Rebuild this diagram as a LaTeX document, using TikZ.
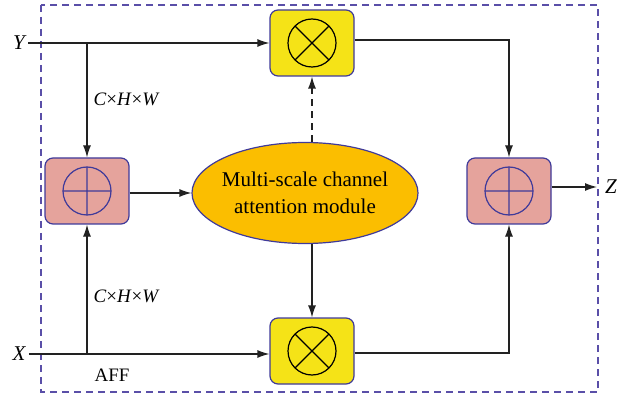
\documentclass[tikz,border=0pt]{standalone}
\usepackage{fontspec}
\setmainfont{Liberation Serif}
\usetikzlibrary{shapes.geometric,arrows.meta}
\definecolor{edgeblue}{HTML}{3F3A9A}
\definecolor{framecol}{HTML}{5A4FA8}
\definecolor{mulfill}{HTML}{F5E317}
\definecolor{addfill}{HTML}{E5A39C}
\definecolor{attfill}{HTML}{FBBE00}
\definecolor{wire}{HTML}{222222}
\tikzset{
  opbox/.style={draw=edgeblue, line width=1.2pt, rounded corners=8pt,
    minimum width=84pt, minimum height=66pt, inner sep=0pt},
  mulbox/.style={opbox, fill=mulfill},
  addbox/.style={opbox, fill=addfill},
  flow/.style={draw=wire, line width=1.2pt, -{Latex[length=12pt,width=8pt]}},
  lbl/.style={font=\fontsize{19}{21}\selectfont},
  io/.style={font=\fontsize{21}{23}\selectfont\itshape},
}
\newcommand{\timesmark}[1]{%
  \draw[black, line width=1.2pt] (#1) circle (24pt)
    (#1) ++(45:24pt) -- ++(225:48pt)
    (#1) ++(135:24pt) -- ++(-45:48pt);}
\newcommand{\plusmark}[1]{%
  \draw[edgeblue, line width=1.2pt] (#1) circle (24pt)
    (#1) ++(0:24pt) -- ++(180:48pt)
    (#1) ++(90:24pt) -- ++(-90:48pt);}
\newcommand{\dims}{\textit{C}×\textit{H}×\textit{W}}
\begin{document}
\begin{tikzpicture}[x=1pt,y=-1pt]
  \useasboundingbox (0,0) rectangle (629,398);
  % module frame
  \draw[framecol, line width=1.2pt, dash pattern=on 7pt off 5pt] (41,5) rectangle (598,392);

  % blocks
  \node[mulbox] (mt) at (312,43) {};
  \node[mulbox] (mb) at (312,351) {};
  \node[addbox] (al) at (87,191) {};
  \node[addbox] (ar) at (509,191) {};
  \node[ellipse, draw=edgeblue, line width=1.2pt, fill=attfill,
        minimum width=226pt, minimum height=101pt, inner sep=0pt]
        (msc) at (305,193) {};
  \node[align=center, font=\fontsize{21}{27}\selectfont, inner sep=0pt]
        (msctext) at (msc.center) {Multi-scale channel\\attention module};
  \timesmark{mt.center}
  \timesmark{mb.center}
  \plusmark{al.center}
  \plusmark{ar.center}

  % inputs and output
  \node[io] (y) at (19,43) {Y};
  \node[io] (x) at (19,354) {X};
  \node[io] (z) at (611,187) {Z};
  \coordinate (ybr) at (87,43);
  \coordinate (xbr) at (87,354);
  \coordinate (zend) at (597,187);

  \draw[draw=wire, line width=1.2pt] (y.east |- ybr) -- (ybr);
  \draw[flow] (ybr) -- (mt.west |- ybr);
  \draw[flow] (ybr) -- (al.north);
  \draw[draw=wire, line width=1.2pt] (x.east |- xbr) -- (xbr);
  \draw[flow] (xbr) -- (mb.west |- xbr);
  \draw[flow] (xbr) -- (al.south);

  \draw[flow] (al.east |- msc.west) -- (msc.west);
  \draw[flow, dash pattern=on 7pt off 5pt] (msc.north -| mt.south) -- (mt.south);
  \draw[flow] (msc.south -| mb.north) -- (mb.north);

  \draw[flow] (mt.east |- 0,40) -| (ar.north);
  \draw[flow] (mb.east |- 0,353) -| (ar.south);
  \draw[flow] (ar.east |- zend) -- (zend);

  % labels
  \node[lbl, anchor=west] (l1) at (90,99) {\dims};
  \node[lbl, anchor=west] (l2) at (90,296) {\dims};
  \node[lbl, anchor=west] (aff) at (91,375) {AFF};
\end{tikzpicture}
\end{document}
